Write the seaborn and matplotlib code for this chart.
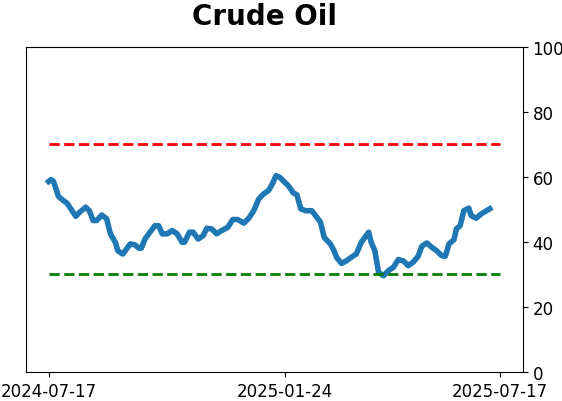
import pandas as pd
import matplotlib
matplotlib.use("Agg")
import matplotlib.pyplot as plt
import seaborn as sns

# === Data ===
start_date = "2024-07-17"
end_date = "2025-07-17"
tick_dates = ["2024-07-17", "2025-01-24", "2025-07-17"]
upper_level = 70
lower_level = 30

day_offset = [0, 2, 4, 8, 12, 15, 19, 22, 25, 30, 33, 36, 39, 43, 47, 50, 54, 56, 60, 63,
              66, 70, 73, 75, 78, 82, 86, 89, 92, 96, 100, 104, 108, 110, 114, 117, 121, 125, 128, 132,
              136, 140, 145, 149, 153, 158, 162, 166, 170, 174, 178, 181, 184, 187, 191, 194, 198, 201, 204, 208,
              213, 216, 220, 223, 228, 231, 233, 237, 241, 245, 249, 253, 257, 259, 261, 264, 267, 271, 275, 279,
              283, 287, 291, 295, 299, 302, 306, 310, 314, 318, 321, 324, 328, 330, 333, 336, 340, 342, 346, 350,
              353, 357]
value = [58.6, 59.2, 58.6, 54.0, 52.7, 51.9, 49.6, 47.9, 49.1, 50.7, 49.6, 46.6, 46.6, 48.3, 47.1, 42.5, 39.9, 37.3, 36.3, 37.8,
         39.4, 39.1, 38.1, 38.1, 40.9, 43.0, 45.0, 45.0, 42.5, 42.5, 43.5, 42.5, 39.9, 39.9, 43.0, 43.0, 40.9, 41.9, 44.2, 44.0,
         42.5, 43.5, 44.5, 46.9, 46.9, 45.8, 47.3, 49.6, 53.2, 54.8, 55.8, 57.8, 60.4, 59.9, 58.4, 57.3, 55.1, 54.5, 50.2, 49.6,
         49.6, 48.1, 46.1, 41.4, 39.4, 37.3, 35.3, 33.4, 34.2, 35.3, 36.3, 39.9, 42.0, 43.0, 39.9, 37.3, 30.7, 29.6, 31.2, 32.2,
         34.6, 34.2, 32.7, 33.8, 35.6, 38.7, 39.7, 38.4, 37.3, 35.8, 35.6, 39.4, 40.7, 44.0, 45.0, 49.6, 50.4, 48.1, 47.3, 48.6,
         49.3, 50.2]

df = pd.DataFrame({
    "date": pd.Timestamp(start_date) + pd.to_timedelta(day_offset, unit="D"),
    "value": value,
})

# === Plot ===
fig = plt.figure(figsize=(5.62, 4.02), dpi=100)
ax = fig.add_axes([0.046, 0.072, 0.884, 0.809])

sns.lineplot(data=df, x="date", y="value", ax=ax, color="#1f77b4", linewidth=4)

t0, t1 = pd.Timestamp(start_date), pd.Timestamp(end_date)
ax.hlines(upper_level, t0, t1, colors="red", linestyles="--", linewidth=2)
ax.hlines(lower_level, t0, t1, colors="green", linestyles="--", linewidth=2)

ax.set_xlim(t0 - pd.Timedelta(days=18.4), t1 + pd.Timedelta(days=18.6))
ax.set_ylim(0, 100)
ax.set_xticks([pd.Timestamp(d) for d in tick_dates])
ax.set_xticklabels(tick_dates, fontsize=12)
ax.yaxis.tick_right()
ax.tick_params(axis="y", labelsize=12)
ax.set_xlabel("")
ax.set_ylabel("")

fig.text(264 / 562, 0.938, "Crude Oil", fontsize=20, fontweight="bold", ha="center", va="baseline")

# === Save ===
fig.savefig("out.png", dpi=100)
plt.close(fig)
